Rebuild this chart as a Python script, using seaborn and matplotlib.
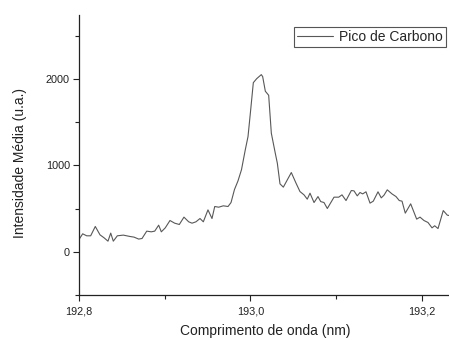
import matplotlib
matplotlib.use("Agg")
import matplotlib.pyplot as plt
import matplotlib.ticker as mticker
import numpy as np
import pandas as pd
import seaborn as sns

# Wavelength (nm) and mean intensity (a.u.) of the carbon emission line
wavelength = [
    192.8003, 192.8043, 192.8090, 192.8136, 192.8190, 192.8245, 192.8292, 192.8338,
    192.8370, 192.8400, 192.8447, 192.8517, 192.8595, 192.8641, 192.8696, 192.8735,
    192.8790, 192.8843, 192.8883, 192.8929, 192.8960, 192.9006, 192.9061, 192.9116,
    192.9170, 192.9224, 192.9279, 192.9318, 192.9364, 192.9411, 192.9450, 192.9504,
    192.9551, 192.9583, 192.9629, 192.9683, 192.9738, 192.9773, 192.9813, 192.9854,
    192.9895, 192.9939, 192.9971, 193.0002, 193.0033, 193.0072, 193.0126, 193.0142,
    193.0173, 193.0212, 193.0243, 193.0289, 193.0313, 193.0344, 193.0383, 193.0429,
    193.0476, 193.0531, 193.0577, 193.0624, 193.0662, 193.0694, 193.0741, 193.0787,
    193.0819, 193.0857, 193.0896, 193.0974, 193.1029, 193.1067, 193.1114, 193.1176,
    193.1207, 193.1245, 193.1277, 193.1308, 193.1347, 193.1394, 193.1432, 193.1487,
    193.1525, 193.1557, 193.1595, 193.1650, 193.1697, 193.1735, 193.1767, 193.1805,
    193.1868, 193.1938, 193.1977, 193.2023, 193.2070, 193.2117, 193.2148, 193.2187,
    193.2248, 193.2295, 193.2315,
]
intensity = [
    147, 208, 185, 185, 293, 196, 162, 123,
    216, 123, 185, 193, 177, 170, 147, 154,
    239, 231, 239, 308, 231, 277, 362, 331,
    316, 401, 347, 331, 347, 385, 347, 485,
    385, 524, 516, 532, 524, 570, 720, 820,
    950, 1179, 1333, 1641, 1957, 2003, 2050, 2027,
    1858, 1811, 1372, 1141, 1025, 786, 748, 832,
    917, 794, 697, 659, 609, 678, 570, 639,
    581, 570, 501, 632, 632, 659, 593, 709,
    705, 647, 686, 670, 694, 563, 586, 694,
    624, 655, 717, 670, 639, 593, 586, 447,
    555, 378, 401, 362, 339, 277, 301, 269,
    477, 424, 420,
]
series_label = "Pico de Carbono"
x_ticks = [192.8, 193.0, 193.2]
y_ticks = [0, 1000, 2000]

df = pd.DataFrame({"wl": wavelength, "I": intensity, "serie": series_label})

sns.set_style("ticks")
plt.rcParams["font.family"] = ["Liberation Sans", "DejaVu Sans"]

W, H = 449, 340
fig = plt.figure(figsize=(W / 100, H / 100), dpi=100)
ax = fig.add_axes([79 / W, 1 - 295 / H, 1 - 79 / W, (295 - 15) / H])

sns.lineplot(data=df, x="wl", y="I", hue="serie", palette=["#585858"],
             linewidth=0.8, ax=ax, legend=True, sort=False)

ax.set_xlim(192.8, 193.2315)
ax.set_ylim(-500, 2740)
ax.set_xticks(x_ticks)
ax.set_yticks(y_ticks)
ax.xaxis.set_minor_locator(mticker.MultipleLocator(0.1))
ax.yaxis.set_minor_locator(mticker.MultipleLocator(500))
ax.xaxis.set_major_formatter(mticker.FuncFormatter(lambda v, p: f"{v:.1f}".replace(".", ",")))
ax.yaxis.set_major_formatter(mticker.FuncFormatter(lambda v, p: f"{v:.0f}"))

ax.tick_params(axis="both", which="major", direction="out", length=4, width=0.8,
               labelsize=7.8, colors="#222222")
ax.tick_params(axis="x", which="major", pad=4.5)
ax.tick_params(axis="y", which="major", pad=2.5)
ax.tick_params(axis="both", which="minor", direction="out", length=3, width=0.8,
               colors="#222222")

for side in ("top", "right"):
    ax.spines[side].set_visible(False)
for side in ("left", "bottom"):
    ax.spines[side].set_color("#222222")
    ax.spines[side].set_linewidth(0.9)

ax.set_xlabel("Comprimento de onda (nm)", fontsize=10, color="#222222")
ax.set_ylabel("Intensidade Média (u.a.)", fontsize=10, color="#222222")
ax.xaxis.set_label_coords((265 - 79) / 370, -(324 - 295) / 280)
ax.yaxis.set_label_coords((27 - 79) / 370, (295 - 163) / 280)

handles, labels = ax.get_legend_handles_labels()
leg = ax.legend(handles, labels, loc="upper left",
                bbox_to_anchor=(294 / W, 1 - 27 / H), bbox_transform=fig.transFigure,
                fontsize=10, frameon=True, fancybox=False, handlelength=2.6,
                handletextpad=0.45, borderpad=0.2, borderaxespad=0)
leg.get_frame().set_edgecolor("#555555")
leg.get_frame().set_linewidth(0.8)
leg.get_frame().set_alpha(1)

fig.savefig("out.png", dpi=100)
